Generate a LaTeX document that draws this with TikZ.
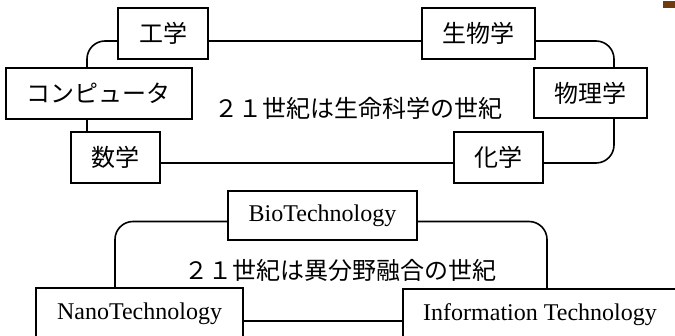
\documentclass[tikz,border=0pt]{standalone}
\usepackage{fontspec}
\setmainfont{Liberation Serif}
\newfontfamily\jp{Noto Sans CJK JP}
\usetikzlibrary{calc}
\definecolor{markbrown}{RGB}{110,60,15}
\tikzset{
  box/.style={draw, line width=1.6pt, fill=white, inner sep=0pt, anchor=center},
  jpbox/.style={box, font=\jp\fontsize{24}{28}\selectfont},
  enbox/.style={box, font=\fontsize{24}{28}\selectfont},
  conn/.style={line width=1.6pt, rounded corners=18pt},
  title/.style={font=\jp\fontsize{24}{28}\selectfont, inner sep=0pt}
}
\begin{document}
\begin{tikzpicture}[x=1pt,y=-1pt]
\useasboundingbox (0,0) rectangle (675,336);
\clip (0,0) rectangle (675,336);
\fill[markbrown] (663,1) rectangle (676,8);
% top diagram
\node[jpbox, minimum width=90pt, minimum height=51pt] (kogaku) at (163,33.5) {工学};
\node[jpbox, minimum width=186pt, minimum height=51pt] (comp) at (99,93.5) {コンピュータ};
\node[jpbox, minimum width=89pt, minimum height=51pt] (sugaku) at (115.5,157.5) {数学};
\node[jpbox, minimum width=113pt, minimum height=51pt] (seibutsu) at (478.5,33.5) {生物学};
\node[jpbox, minimum width=113pt, minimum height=50pt] (butsuri) at (590.5,93) {物理学};
\node[jpbox, minimum width=89pt, minimum height=51pt] (kagaku) at (498.5,157.5) {化学};
\node[title] (t1) at (358,108) {２１世紀は生命科学の世紀};
\draw[conn] ([yshift=-7.5pt]kogaku.west) -| ([xshift=-12pt]comp.north);
\draw[conn] ([xshift=-12pt]comp.south) -- ([xshift=-12pt]comp.south |- sugaku.north);
\draw[conn] ([yshift=-5.5pt]sugaku.east) -- ([yshift=-5.5pt]sugaku.east -| kagaku.west);
\draw[conn] ([yshift=-5.5pt]kagaku.east) -| ([xshift=23.5pt]butsuri.south);
\draw[conn] ([xshift=23.5pt]butsuri.north) |- ([yshift=-7.5pt]seibutsu.east);
\draw[conn] ([yshift=-7.5pt]kogaku.east) -- ([yshift=-7.5pt]seibutsu.west);
% bottom diagram
\node[enbox, minimum width=189pt, minimum height=49pt] (bio) at (322.5,215.5) {BioTechnology};
\node[enbox, minimum width=207pt, minimum height=52pt] (nano) at (139.5,314) {NanoTechnology};
\node[enbox, minimum width=274pt, minimum height=52pt] (info) at (540,315) {Information Technology};
\node[title] (t2) at (340,270) {２１世紀は異分野融合の世紀};
\draw[conn] ([yshift=-6pt]bio.west) -| ([xshift=-24.5pt]nano.north);
\draw[conn] ([yshift=-6pt]bio.east) -| ([xshift=7pt]info.north);
\draw[conn] ([yshift=-7pt]nano.east) -- ([yshift=-7pt]nano.east -| info.west);
\end{tikzpicture}
\end{document}
